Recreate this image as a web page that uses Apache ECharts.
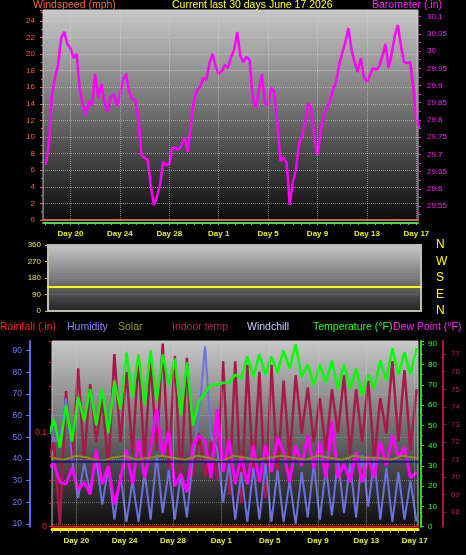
<!DOCTYPE html>
<html>
<head>
<meta charset="utf-8">
<script src="https://cdn.jsdelivr.net/npm/echarts@6/dist/echarts.min.js"></script>
</head>
<body style="margin:0;background:#000">
<div id="container" style="width:466px;height:555px"></div>
<script>
// x is in days, 0 = Day 20 (May 20 00:00)
var dayTicks = [0, 4, 8, 12, 16, 20, 24, 28];
var dayLabels = ['Day 20', 'Day 24', 'Day 28', 'Day 1', 'Day 5', 'Day 9', 'Day 13', 'Day 17'];
var compassLabels = ['N', 'E', 'S', 'W', 'N'];

// barometer, every 6 h from day -2
var baroStart = -2, baroStep = 0.25;
var barometer = [
  29.669, 29.727, 29.872, 29.922, 29.960, 30.038, 30.056, 30.021, 30.009, 29.980,
  29.992, 29.893, 29.843, 29.814, 29.855, 29.843, 29.934, 29.864, 29.904, 29.852,
  29.823, 29.867, 29.875, 29.841, 29.872, 29.916, 29.934, 29.881, 29.861, 29.858,
  29.806, 29.698, 29.690, 29.684, 29.611, 29.553, 29.576, 29.611, 29.678, 29.669,
  29.672, 29.719, 29.719, 29.713, 29.727, 29.750, 29.707, 29.785, 29.858, 29.887,
  29.896, 29.922, 29.916, 29.965, 29.992, 29.957, 29.934, 29.942, 29.960, 29.951,
  29.983, 30.003, 30.056, 29.986, 29.968, 29.983, 29.974, 29.867, 29.835, 29.887,
  29.934, 29.849, 29.841, 29.893, 29.881, 29.785, 29.681, 29.690, 29.675, 29.553,
  29.620, 29.655, 29.733, 29.753, 29.794, 29.849, 29.829, 29.742, 29.698, 29.765,
  29.814, 29.835, 29.855, 29.887, 29.910, 29.960, 29.995, 30.026, 30.067, 30.003,
  29.968, 29.939, 29.980, 29.925, 29.910, 29.931, 29.951, 29.945, 29.957, 29.986,
  30.021, 29.951, 29.992, 30.044, 30.076, 30.015, 29.968, 29.965, 29.968, 29.893,
  29.800, 29.777
];

// daily series from day -3
var dailyStart = -3;
var windspeed = [0,0,0,0,0,0,0,0,0,0,0,0,0,0,0,0,0,0,0,0,0,0,0,0,0,0,0,0,0,0,0,0,0];
var windDir = [131,131,131,131,131,131,131,131,131,131,131,131,131,131,131,131,131,131,131,131,131,131,131,131,131,131,131,131,131,131,131,131,131];
var rainfall = [0,0,0,0,0,0,0,0,0,0,0,0,0,0,0,0,0,0,0,0,0,0,0,0,0,0,0,0,0,0,0,0,0];
var solar = [34,34,33,35,34,32,34,35,33,34,35,34,33,35,34,32,35,34,33,34,35,34,33,35,34,33,35,34,34,33,35,34,34];
var windchill = [32,32,32,32,32,32,32,32,32,32,32,32,32,32,32,32,32,32,32,32,32,32,32,32,32,32,32,32,32,32,32,32,32];

// twice a day from day -2.35 (night low, afternoon high)
var halfStart = -2.35, halfStep = 0.5;
var temperature = [
  44, 53, 39, 60, 42, 64, 52, 68, 50, 68, 46, 72, 58, 86, 64, 85, 60, 87, 62, 85,
  70, 83, 55, 81, 50, 62, 66, 70, 70, 71, 71, 75, 73, 84, 74, 85, 75, 84, 76, 87,
  78, 90, 74, 80, 70, 80, 71, 82, 68, 80, 68, 78, 65, 75, 68, 82, 72, 88, 75, 86,
  75, 88
];
var dewPoint = [
  29, 31, 22, 21, 29, 18, 22, 16, 38, 21, 30, 11, 23, 38, 21, 43, 24, 39, 58, 35,
  47, 20, 26, 17, 40, 45, 42, 24, 58, 27, 43, 21, 35, 21, 40, 22, 40, 27, 44, 37,
  22, 40, 30, 45, 29, 42, 24, 52, 24, 31, 22, 37, 22, 35, 24, 42, 30, 45, 34, 39,
  24, 27
];
var humidity = [
  70, 48, 50, 68, 40, 22, 38, 25, 40, 19, 36, 12, 33, 11, 30, 11, 34, 12, 42, 15,
  35, 12, 33, 13, 40, 60, 92, 50, 45, 20, 38, 12, 34, 11, 36, 12, 38, 11, 35, 11,
  30, 10, 34, 13, 38, 12, 36, 14, 40, 15, 38, 13, 42, 18, 40, 12, 36, 11, 34, 12,
  30, 11
];
var indoorTemp = [
  71.0, 72.0, 67.3, 74.9, 70.5, 76.2, 71.0, 75.3, 72.0, 74.5,
  70.5, 77.0, 72.0, 76.0, 71.3, 76.8, 71.0, 76.6, 71.5, 77.6,
  70.5, 76.9, 69.5, 76.8, 70.0, 72.5, 70.0, 72.0, 69.8, 76.6,
  69.0, 76.6, 68.5, 76.4, 70.0, 76.0, 68.8, 76.4, 70.0, 75.5,
  71.0, 75.8, 72.5, 75.1, 72.0, 74.5, 71.5, 75.0, 72.5, 75.8,
  71.3, 75.0, 72.0, 75.5, 71.0, 74.5, 72.5, 76.6, 72.0, 76.1,
  71.5, 75.0
];

var baroTicks = [29.55, 29.6, 29.65, 29.7, 29.75, 29.8, 29.85, 29.9, 29.95, 30, 30.05, 30.1];
var humTicks = [10, 20, 30, 40, 50, 60, 70, 80, 90];
var indoorTicks = [68, 69, 70, 71, 72, 73, 74, 75, 76, 77];

function pairs(start, step, vals) {
  return vals.map(function (v, i) { return [start + i * step, v]; });
}
function range(a, b, s) {
  var out = [];
  for (var v = a; v <= b + 1e-9; v += s) out.push(+v.toFixed(4));
  return out;
}
function shade(top, mid, bottom) {
  return { type: 'linear', x: 0, y: 0, x2: 0, y2: 1,
    colorStops: [{ offset: 0, color: top }, { offset: 0.5, color: mid }, { offset: 1, color: bottom }] };
}
function head(text, left, top, color) {
  return { text: text, left: left, top: top, padding: 0,
    textStyle: { color: color, fontSize: 10.5, fontWeight: 'normal', lineHeight: 11, fontFamily: 'Liberation Sans' } };
}

var chart = echarts.init(document.getElementById('container'));
var dayTickMarks = range(-2, 28, 2 / 3);
var vLines = dayTicks.map(function (d) { return { xAxis: d }; });
var dotted = { type: 'dotted', color: '#d8d8d8', opacity: 0.55, width: 1 };
var dayLabel = {
  customValues: dayTicks, margin: 7, color: '#e8f020', fontSize: 8, fontWeight: 'bold',
  fontFamily: 'Liberation Sans',
  formatter: function (v) { return dayLabels[dayTicks.indexOf(v)]; }
};

function line(name, x, y, data, color, width) {
  return { name: name, type: 'line', xAxisIndex: x, yAxisIndex: y, data: data,
    symbol: 'none', lineStyle: { color: color, width: width }, itemStyle: { color: color } };
}

var wind = line('Windspeed', 0, 0, pairs(dailyStart, 1, windspeed), '#d06a3a', 2);
wind.markLine = { silent: true, symbol: 'none', label: { show: false }, lineStyle: dotted, data: vLines };
var rain = line('Rainfall', 2, 5, pairs(dailyStart, 1, rainfall), '#ff1010', 2);
rain.markLine = { silent: true, symbol: 'none', label: { show: false }, lineStyle: dotted, data: vLines };

var option = {
  backgroundColor: '#000',
  animation: false,
  title: [
    head('Windspeed (mph)', 33, 0, '#f06a3a'),
    head('Current last 30 days June 17 2026', 172, 0, '#ffff20'),
    head('Barometer (.in)', 372, 0, '#ff20ff'),
    head('Rainfall (.in)', 0, 321.5, '#ff2020'),
    head('Humidity', 67, 321.5, '#8888ff'),
    head('Solar', 118, 321.5, '#9a9a20'),
    head('Indoor temp', 172, 321.5, '#b02458'),
    head('Windchill', 247, 321.5, '#c8d0ff'),
    head('Temperature (\u00B0F)', 313, 321.5, '#22ff22'),
    head('Dew Point (\u00B0F)', 393, 321.5, '#ff22ff')
  ],
  grid: [
    { left: 43, top: 10, width: 375, height: 210, show: true,
      backgroundColor: shade('#c8c8c8', '#6c6c6c', '#0c0c0c'), borderColor: '#c8c8c8', borderWidth: 1 },
    { left: 48, top: 245, width: 373, height: 66, show: true,
      backgroundColor: shade('#c8c8c8', '#7a7a7a', '#202020'), borderColor: '#c0c0b0', borderWidth: 2 },
    { left: 52, top: 341, width: 366, height: 185.7, show: true,
      backgroundColor: shade('#c8c8c8', '#6a6a6a', '#0c0c0c'), borderColor: '#c8c8c8', borderWidth: 1 }
  ],
  xAxis: [
    { gridIndex: 0, type: 'value', min: -2.22, max: 28.13, offset: 3,
      axisLine: { onZero: false, lineStyle: { color: '#40e040', width: 2 } },
      axisTick: { customValues: dayTickMarks, length: 2, lineStyle: { color: '#a0a080' } },
      axisLabel: dayLabel, splitLine: { show: false } },
    { gridIndex: 1, type: 'value', min: -2.0, max: 28.27, show: false, axisLine: { onZero: false } },
    { gridIndex: 2, type: 'value', min: -2.01, max: 28.27, offset: 3,
      axisLine: { onZero: false, lineStyle: { color: '#ffff00', width: 3 } },
      axisTick: { customValues: dayTickMarks, length: 3, lineStyle: { color: '#a0a0a0' } },
      axisLabel: dayLabel, splitLine: { show: false } }
  ],
  yAxis: [
    { gridIndex: 0, type: 'value', position: 'left', min: 0, max: 25.3, interval: 2,
      axisLine: { show: false, onZero: false },
      axisTick: { show: true, length: 3, lineStyle: { color: '#e86a30' } },
      minorTick: { show: true, splitNumber: 2, length: 2, lineStyle: { color: '#e86a30' } },
      axisLabel: { color: '#e86a30', fontSize: 8, margin: 8, showMaxLabel: false, fontFamily: 'Liberation Sans' },
      splitLine: { show: true, lineStyle: dotted } },
    { gridIndex: 0, type: 'value', position: 'right', min: 29.5093, max: 30.1195,
      axisLine: { show: false, onZero: false },
      axisTick: { show: true, customValues: range(29.525, 30.1, 0.025), length: 3, lineStyle: { color: '#e020e0' } },
      axisLabel: { customValues: baroTicks, color: '#ff20ff', fontSize: 8, margin: 9, fontFamily: 'Liberation Sans',
        formatter: function (v) { return String(+v.toFixed(2)); } },
      splitLine: { show: false } },
    { gridIndex: 1, type: 'value', position: 'left', min: 0, max: 360, interval: 90,
      axisLine: { show: false, onZero: false },
      axisTick: { show: true, length: 3, lineStyle: { color: '#c8c820' } },
      axisLabel: { color: '#e8e820', fontSize: 8, margin: 7, fontFamily: 'Liberation Sans' },
      splitLine: { show: true, lineStyle: { type: 'dotted', color: '#a0a0a0', opacity: 0.4 } } },
    { gridIndex: 1, type: 'value', position: 'right', min: 0, max: 360, interval: 90,
      axisLine: { show: false, onZero: false }, axisTick: { show: false },
      axisLabel: { color: '#ffff00', fontSize: 12, margin: 15, fontFamily: 'Liberation Sans',
        formatter: function (v) { return compassLabels[v / 90]; } },
      splitLine: { show: false } },
    { gridIndex: 2, type: 'value', position: 'left', offset: 22, min: 8.75, max: 94.48,
      axisLine: { show: true, onZero: false, lineStyle: { color: '#5a64e8', width: 2 } },
      axisTick: { show: true, customValues: humTicks, length: 4, lineStyle: { color: '#6a78ff' } },
      axisLabel: { customValues: humTicks, color: '#6a78ff', fontSize: 8.5, margin: 8, fontFamily: 'Liberation Sans' },
      splitLine: { show: true, lineStyle: { type: 'dotted', color: '#b8b8b8', opacity: 0.5 } } },
    { gridIndex: 2, type: 'value', position: 'left', offset: 0, min: 0, max: 0.198, interval: 0.1,
      axisLine: { show: false, onZero: false },
      axisTick: { show: true, length: 3, lineStyle: { color: '#ff2020' } },
      minorTick: { show: true, splitNumber: 4, length: 3, lineStyle: { color: '#d02020' } },
      axisLabel: { color: '#ff2020', fontSize: 8.5, margin: 5, showMaxLabel: false, fontFamily: 'Liberation Sans' },
      splitLine: { show: false } },
    { gridIndex: 2, type: 'value', position: 'right', offset: 3, min: 0, max: 91.6, interval: 10,
      axisLine: { show: true, onZero: false, lineStyle: { color: '#20e020', width: 2 } },
      axisTick: { show: true, length: 3, lineStyle: { color: '#20e020' } },
      minorTick: { show: true, splitNumber: 2, length: 2, lineStyle: { color: '#20e020' } },
      axisLabel: { color: '#30ff30', fontSize: 8, margin: 7, showMaxLabel: false, fontFamily: 'Liberation Sans' },
      splitLine: { show: false } },
    { gridIndex: 2, type: 'value', position: 'right', offset: 25, min: 67.18, max: 77.75,
      axisLine: { show: true, onZero: false, lineStyle: { color: '#a01848', width: 2 } },
      axisTick: { show: true, customValues: indoorTicks, length: 3, lineStyle: { color: '#a01848' } },
      axisLabel: { customValues: indoorTicks, color: '#b02050', fontSize: 8, margin: 8, fontFamily: 'Liberation Sans' },
      splitLine: { show: false } }
  ],
  series: [
    wind,
    line('Barometer', 0, 1, pairs(baroStart, baroStep, barometer), '#ff00ff', 2.5),
    line('Wind direction', 1, 2, pairs(dailyStart, 1, windDir), '#ffff00', 2),
    rain,
    line('Indoor temp', 2, 7, pairs(halfStart, halfStep, indoorTemp), '#a8184a', 2.5),
    line('Humidity', 2, 4, pairs(halfStart, halfStep, humidity), '#6a72e0', 2),
    line('Dew Point', 2, 6, pairs(halfStart, halfStep, dewPoint), '#ff00ff', 3),
    line('Solar', 2, 6, pairs(dailyStart, 1, solar), '#8c8c10', 2),
    line('Temperature', 2, 6, pairs(halfStart, halfStep, temperature), '#00ff00', 2.5),
    line('Windchill', 2, 6, pairs(dailyStart, 1, windchill), '#1a1a88', 2)
  ]
};
chart.setOption(option);
</script>
</body>
</html>
